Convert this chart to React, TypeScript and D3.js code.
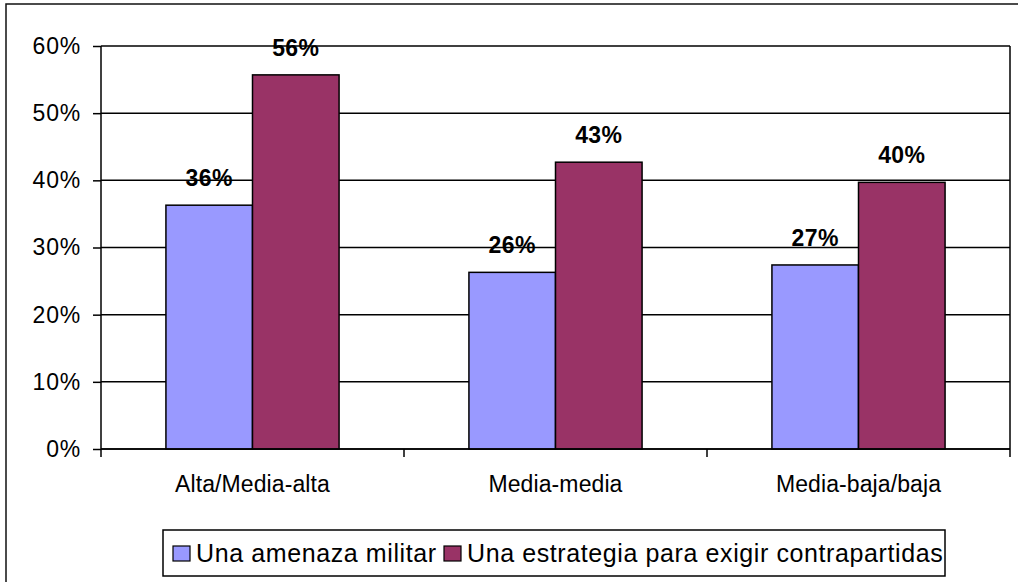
import { useEffect, useRef } from "react";
import * as d3 from "d3";

const categories = ["Alta/Media-alta", "Media-media", "Media-baja/baja"];
const seriesNames = ["Una amenaza militar", "Una estrategia para exigir contrapartidas"];
const militar = [0.363, 0.263, 0.274];
const contrapartidas = [0.557, 0.427, 0.397];
const labelsMilitar = ["36%", "26%", "27%"];
const labelsContra = ["56%", "43%", "40%"];
const yTicks = [0, 0.1, 0.2, 0.3, 0.4, 0.5, 0.6];
const colors = ["#9999FF", "#993366"];

const width = 1018, height = 582;
const plot = { left: 101, right: 1010, top: 46, bottom: 449 };
const font = "Arial, 'Liberation Sans', sans-serif";

const App = () => {
  const ref = useRef<SVGSVGElement>(null);

  useEffect(() => {
    const svg = d3.select(ref.current);
    svg.selectAll("*").remove();

    // outer chart frame (right / bottom edges fall outside the picture)
    svg.append("rect")
      .attr("x", 6).attr("y", 4)
      .attr("width", width + 20).attr("height", height + 20)
      .attr("fill", "white").attr("stroke", "#111").attr("stroke-width", 1.5);

    const y = d3.scaleLinear().domain([0, 0.6]).range([plot.bottom, plot.top]);
    const x = d3.scaleBand().domain(categories).range([plot.left, plot.right]);
    const bw = x.bandwidth();
    const gap = bw * 0.75 / 3.5;
    const x1 = d3.scaleBand().domain(seriesNames).range([gap, bw - gap]);

    // gridlines
    svg.append("g")
      .selectAll("line")
      .data(yTicks)
      .join("line")
      .attr("x1", plot.left).attr("x2", plot.right)
      .attr("y1", d => y(d)).attr("y2", d => y(d))
      .attr("stroke", "black").attr("stroke-width", 1.5);

    // right border of plot area
    svg.append("line")
      .attr("x1", plot.right).attr("x2", plot.right)
      .attr("y1", plot.top).attr("y2", plot.bottom)
      .attr("stroke", "black").attr("stroke-width", 1.5);

    // y axis
    svg.append("g")
      .attr("transform", `translate(${plot.left},0)`)
      .call(d3.axisLeft(y).tickValues(yTicks).tickFormat(d3.format(".0%")).tickSize(8).tickPadding(12))
      .call(g => g.selectAll("line,path").attr("stroke", "black").attr("stroke-width", 1.5))
      .call(g => g.select(".domain").attr("d", `M0,${plot.top}V${plot.bottom}`))
      .call(g => g.selectAll("text")
        .attr("font-family", font).attr("font-size", 23)
        .attr("letter-spacing", 0.8).attr("fill", "black"));

    const data = categories.map((c, i) => ({
      cat: c,
      vals: [
        { s: seriesNames[0], v: militar[i], label: labelsMilitar[i] },
        { s: seriesNames[1], v: contrapartidas[i], label: labelsContra[i] },
      ],
    }));

    const groups = svg.append("g")
      .selectAll("g")
      .data(data)
      .join("g")
      .attr("transform", d => `translate(${x(d.cat)},0)`);

    groups.selectAll("rect")
      .data(d => d.vals)
      .join("rect")
      .attr("x", d => x1(d.s) as number)
      .attr("y", d => y(d.v))
      .attr("width", x1.bandwidth())
      .attr("height", d => y(0) - y(d.v))
      .attr("fill", (d, i) => colors[i])
      .attr("stroke", "black").attr("stroke-width", 1.5);

    groups.selectAll("text")
      .data(d => d.vals)
      .join("text")
      .attr("x", d => (x1(d.s) as number) + x1.bandwidth() / 2)
      .attr("y", d => y(d.v) - 19)
      .attr("text-anchor", "middle")
      .attr("font-family", font).attr("font-size", 23).attr("font-weight", "bold")
      .attr("letter-spacing", 0.4)
      .text(d => d.label);

    // x axis
    svg.append("line")
      .attr("x1", plot.left).attr("x2", plot.right)
      .attr("y1", plot.bottom).attr("y2", plot.bottom)
      .attr("stroke", "black").attr("stroke-width", 1.5);
    const bounds = [...categories.map(c => x(c) as number), plot.right];
    svg.append("g")
      .selectAll("line")
      .data(bounds)
      .join("line")
      .attr("x1", d => d).attr("x2", d => d)
      .attr("y1", plot.bottom).attr("y2", plot.bottom + 8)
      .attr("stroke", "black").attr("stroke-width", 1.5);
    svg.append("g")
      .selectAll("text")
      .data(categories)
      .join("text")
      .attr("x", d => (x(d) as number) + bw / 2)
      .attr("y", 492)
      .attr("text-anchor", "middle")
      .attr("font-family", font).attr("font-size", 23).attr("letter-spacing", 0.1)
      .text(d => d);

    // legend
    const lg = svg.append("g");
    lg.append("rect")
      .attr("x", 163).attr("y", 530).attr("width", 782).attr("height", 46)
      .attr("fill", "white").attr("stroke", "black").attr("stroke-width", 1.5);
    const items = lg.selectAll("g")
      .data(seriesNames)
      .join("g")
      .attr("transform", (d, i) => `translate(${i === 0 ? 173 : 444},0)`);
    items.append("rect")
      .attr("x", 0).attr("y", 546).attr("width", 17).attr("height", 15)
      .attr("fill", (d, i) => colors[i]).attr("stroke", "black").attr("stroke-width", 1.2);
    items.append("text")
      .attr("x", 23).attr("y", 562)
      .attr("font-family", font).attr("font-size", 25).attr("letter-spacing", 0.6)
      .text(d => d);
  }, []);

  return (
    <svg ref={ref} width={width} height={height}
      style={{ position: "absolute", left: 0, top: 0, background: "white" }} />
  );
};

export default App;
